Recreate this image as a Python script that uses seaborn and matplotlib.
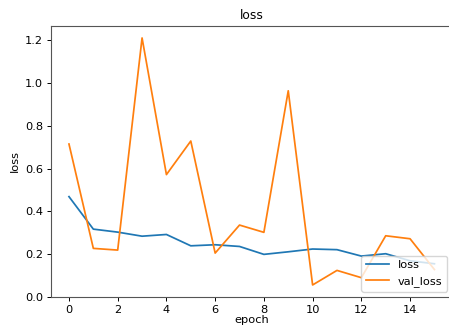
import matplotlib
matplotlib.use("Agg")
import matplotlib.pyplot as plt
import seaborn as sns
import pandas as pd

epochs = list(range(16))
loss = [0.469, 0.317, 0.303, 0.284, 0.292, 0.239, 0.244, 0.236,
        0.199, 0.211, 0.224, 0.221, 0.191, 0.202, 0.169, 0.155]
val_loss = [0.715, 0.227, 0.219, 1.211, 0.572, 0.729, 0.205, 0.336,
            0.302, 0.964, 0.056, 0.124, 0.090, 0.286, 0.272, 0.128]

df = pd.DataFrame({"epoch": epochs, "loss": loss, "val_loss": val_loss})

plt.rcParams["font.family"] = ["DejaVu Sans"]
fs = 8.2
fig = plt.figure(figsize=(4.49, 3.27), dpi=100)
W, H = 449, 327
left, right, top, bottom = 50.7, 452.7, 25.6, 297.3
ax = fig.add_axes([left / W, (H - bottom) / H, (right - left) / W, (bottom - top) / H])

sns.lineplot(data=df, x="epoch", y="loss", ax=ax, color="#1f77b4", linewidth=1.25, label="loss")
sns.lineplot(data=df, x="epoch", y="val_loss", ax=ax, color="#ff7f0e", linewidth=1.25, label="val_loss")

ax.set_xticks([0, 2, 4, 6, 8, 10, 12, 14])
ax.set_yticks([0.0, 0.2, 0.4, 0.6, 0.8, 1.0, 1.2])
ax.tick_params(labelsize=fs, width=0.7, length=3, pad=2.5)
for s in ax.spines.values():
    s.set_linewidth(0.8)
    s.set_color("#555555")
ax.set_title("loss", fontsize=fs + 0.6, pad=5)
ax.set_xlabel("epoch", fontsize=fs, labelpad=0)
ax.set_ylabel("loss", fontsize=fs)
ax.legend(loc="lower right", fontsize=fs, handlelength=2.0)

fig.savefig("out.png", dpi=100)
